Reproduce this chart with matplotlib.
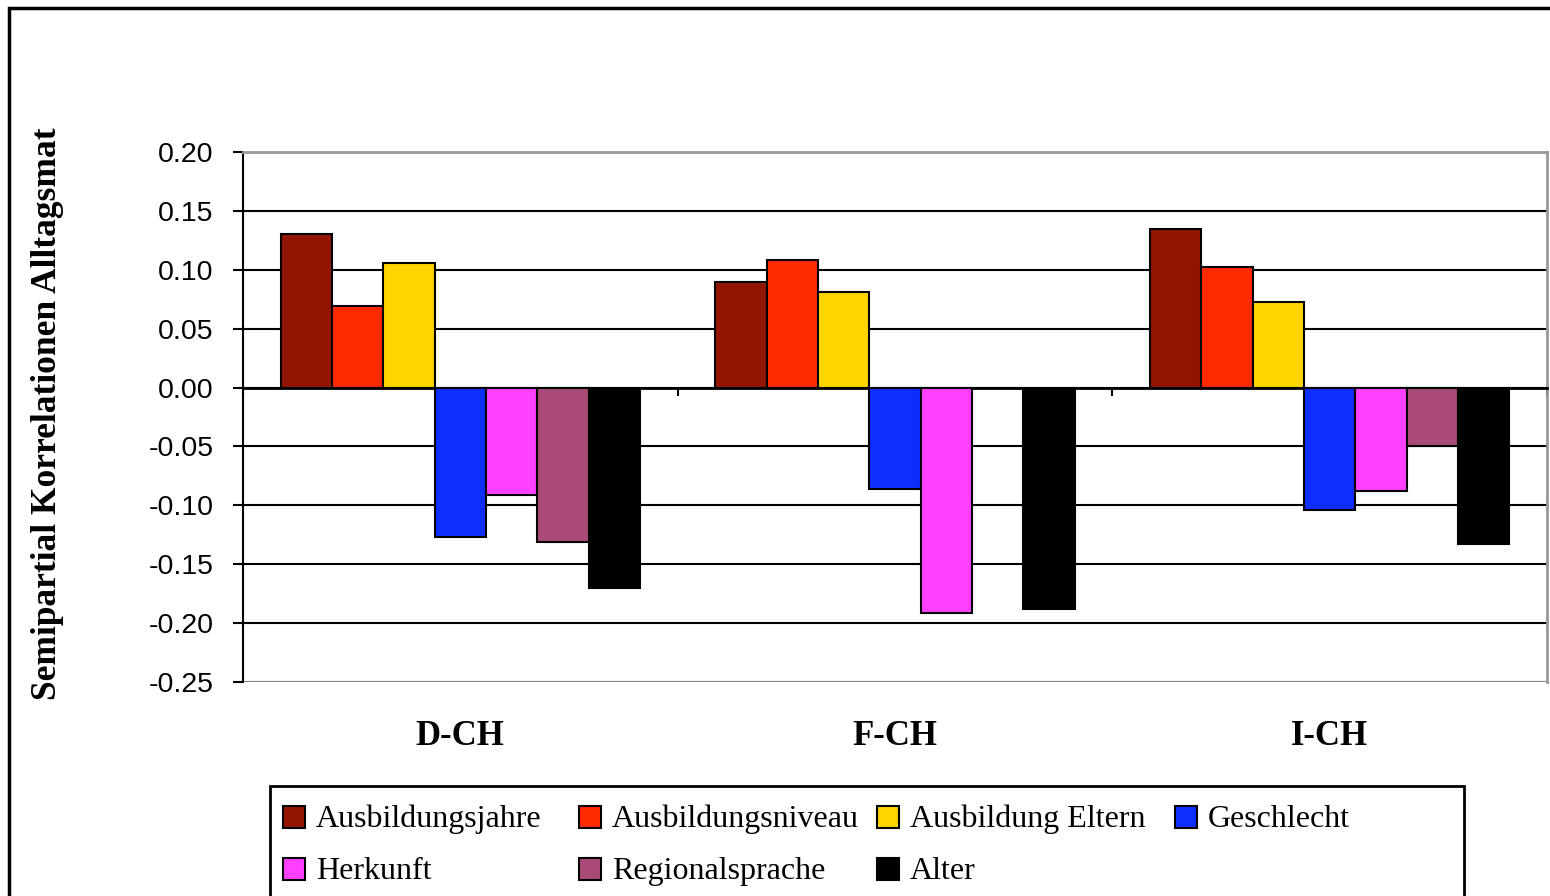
import numpy as np
import matplotlib.pyplot as plt
import matplotlib.transforms as mtransforms
from matplotlib.patches import Rectangle

regions = ["D-CH", "F-CH", "I-CH"]
predictors = ["Ausbildungsjahre", "Ausbildungsniveau", "Ausbildung Eltern", "Geschlecht",
              "Herkunft", "Regionalsprache", "Alter"]
ausbildungsjahre = [0.130, 0.090, 0.135]
ausbildungsniveau = [0.069, 0.108, 0.102]
ausbildung_eltern = [0.106, 0.081, 0.073]
geschlecht = [-0.127, -0.086, -0.104]
herkunft = [-0.091, -0.191, -0.088]
regionalsprache = [-0.131, 0.0, -0.050]
alter = [-0.170, -0.188, -0.133]
series = [ausbildungsjahre, ausbildungsniveau, ausbildung_eltern, geschlecht,
          herkunft, regionalsprache, alter]
colors = ["#931500", "#FF2A00", "#FFD500", "#0E2EFF", "#FF40FF", "#AA4A78", "#000000"]
yticks = [-0.25, -0.20, -0.15, -0.10, -0.05, 0.00, 0.05, 0.10, 0.15, 0.20]

W, H = 1550, 896
fig = plt.figure(figsize=(W / 100, H / 100), dpi=100)
ax = fig.add_axes([243 / W, 1 - 682 / H, (1547 - 243) / W, (682 - 152) / H])

x = np.arange(len(regions))
bw = 0.827 / len(series)
for k, (vals, c) in enumerate(zip(series, colors)):
    off = (k - (len(series) - 1) / 2) * bw
    ax.bar(x + off, vals, bw, color=c, edgecolor="black", linewidth=1.5, zorder=3)

ax.set_xlim(-0.5, 2.5)
ax.set_ylim(-0.25, 0.20)
ax.set_yticks(yticks)
ax.set_yticklabels([f"{v:.2f}" for v in yticks], family="Liberation Sans", fontsize=20.5)
ax.tick_params(axis="y", direction="out", length=7, width=1.5, pad=14)
ax.yaxis.grid(True, color="black", linewidth=1.5)
ax.set_axisbelow(True)

# x axis sits on the zero line, ticks between categories
ax.spines["bottom"].set_position(("data", 0))
ax.spines["bottom"].set_linewidth(2)
ax.spines["left"].set_linewidth(1.5)
ax.set_xticks([-0.5, 0.5, 1.5, 2.5])
ax.set_xticklabels([])
ax.tick_params(axis="x", direction="out", length=6, width=1.5)
for s in ["top", "right"]:
    ax.spines[s].set_color("#999999")
    ax.spines[s].set_linewidth(2)
ax.axhline(-0.25, color="#999999", linewidth=2, zorder=1)

trans = mtransforms.blended_transform_factory(ax.transData, ax.transAxes)
for i, r in enumerate(regions):
    ax.text(i, -0.103, r, transform=trans, ha="center", va="center",
            family="Liberation Serif", fontweight="bold", fontsize=25)

fig.text(48 / W, 1 - 700 / H, "Semipartial Korrelationen Alltagsmat", rotation=90,
         ha="center", va="bottom", family="Liberation Serif", fontweight="bold", fontsize=25.5)

# outer frame
fig.patches.append(Rectangle((9 / W, -0.1), 1.2, 1 - 8 / H + 0.1, transform=fig.transFigure,
                             fill=False, edgecolor="black", linewidth=2.5))

# legend box, laid out in two rows like the original
fig.patches.append(Rectangle((270 / W, -0.1), (1464 - 270) / W, 1 - 786 / H + 0.1,
                             transform=fig.transFigure, fill=False, edgecolor="black", linewidth=2))
col_x = [283, 579, 877, 1175]
row_y = [817, 869]
for k, (name, c) in enumerate(zip(predictors, colors)):
    px = col_x[k % 4]
    py = row_y[k // 4]
    fig.patches.append(Rectangle((px / W, 1 - (py + 11) / H), 22 / W, 22 / H,
                                 transform=fig.transFigure, facecolor=c, edgecolor="black",
                                 linewidth=1.5))
    fig.text((px + 33) / W, 1 - (py + 2) / H, name, ha="left", va="center",
             family="Liberation Serif", fontsize=23)

plt.savefig("out.png", dpi=100)
